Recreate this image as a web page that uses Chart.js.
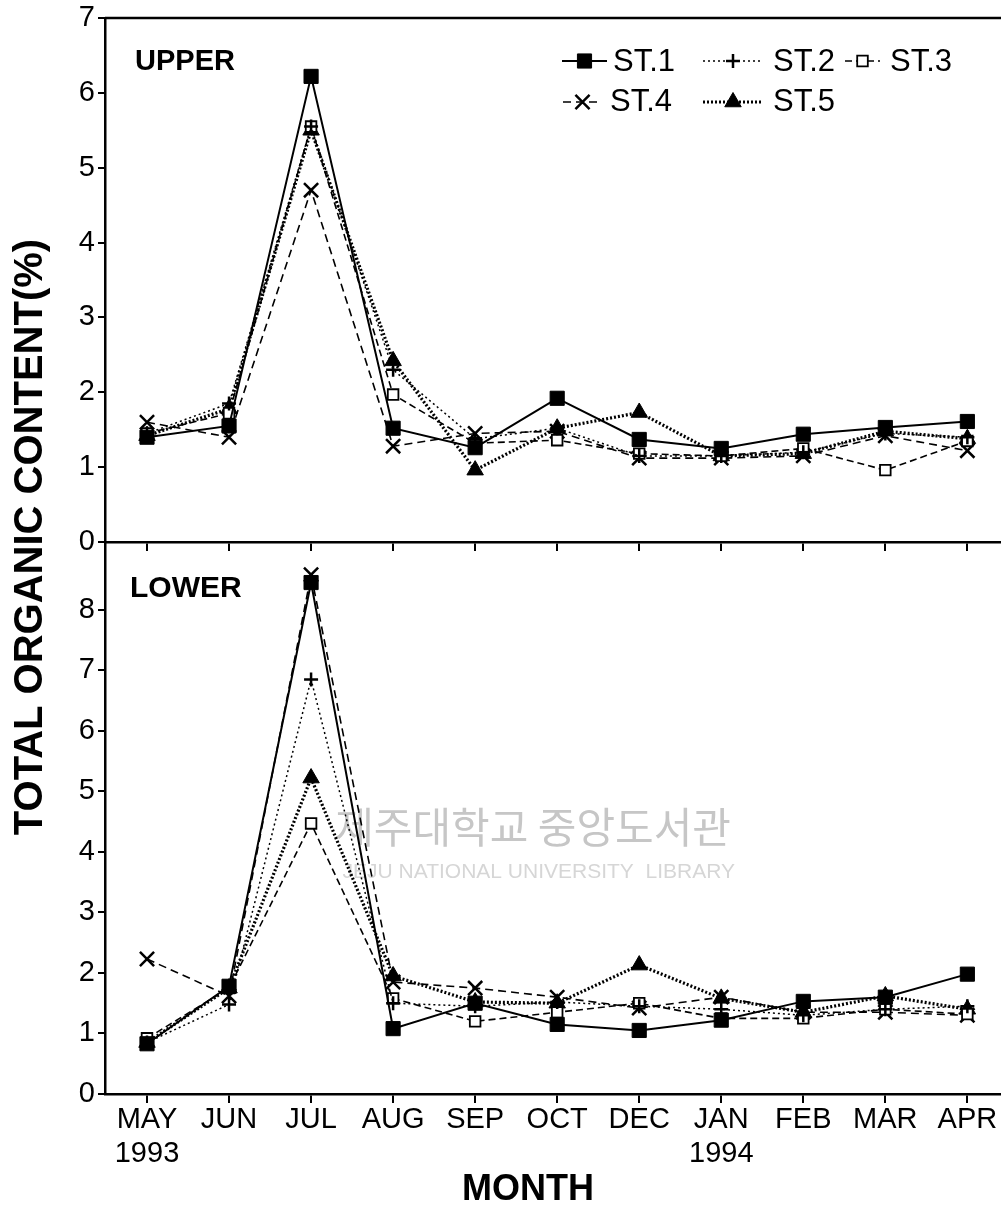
<!DOCTYPE html>
<html><head><meta charset="utf-8">
<script src="https://cdn.jsdelivr.net/npm/chart.js@4.4.0/dist/chart.umd.min.js"></script>
<style>
html,body{margin:0;padding:0;background:#fff;}
#wrap{position:relative;width:1001px;height:1207px;overflow:hidden;background:#fff;}
canvas{position:absolute;left:0;top:0;}
</style></head><body>
<div id="wrap"><canvas id="up" width="1001" height="1207"></canvas><canvas id="low" width="1001" height="1207"></canvas></div>
<script>
// ---- data ----
const months = ['MAY','JUN','JUL','AUG','SEP','OCT','DEC','JAN','FEB','MAR','APR'];
const years  = ['1993','','','','','','','1994','','',''];
const stations = ['ST.1','ST.2','ST.3','ST.4','ST.5'];
const yTicksUpper = [0,1,2,3,4,5,6,7];
const yTicksLower = [0,1,2,3,4,5,6,7,8];

const upperST1 = [1.40, 1.55, 6.22, 1.52, 1.26, 1.92, 1.37, 1.25, 1.44, 1.53, 1.61];
const upperST2 = [1.45, 1.85, 5.55, 2.30, 1.38, 1.52, 1.15, 1.15, 1.20, 1.45, 1.40];
const upperST3 = [1.45, 1.72, 5.55, 1.97, 1.32, 1.36, 1.18, 1.15, 1.25, 0.96, 1.35];
const upperST4 = [1.60, 1.40, 4.70, 1.28, 1.45, 1.48, 1.12, 1.12, 1.15, 1.42, 1.22];
const upperST5 = [1.42, 1.78, 5.50, 2.42, 0.96, 1.52, 1.73, 1.15, 1.18, 1.48, 1.38];

const lowerST1 = [0.83, 1.78, 8.45, 1.08, 1.50, 1.15, 1.05, 1.22, 1.53, 1.60, 1.98];
const lowerST2 = [0.85, 1.48, 6.85, 1.50, 1.45, 1.52, 1.45, 1.40, 1.30, 1.40, 1.45];
const lowerST3 = [0.92, 1.75, 4.47, 1.58, 1.20, 1.35, 1.50, 1.25, 1.25, 1.40, 1.32];
const lowerST4 = [2.23, 1.62, 8.58, 1.85, 1.75, 1.60, 1.42, 1.60, 1.35, 1.35, 1.30];
const lowerST5 = [0.85, 1.75, 5.22, 1.95, 1.52, 1.50, 2.13, 1.58, 1.35, 1.62, 1.40];

// ---- styles ----
const FONT = '"Liberation Sans", Arial, Helvetica, sans-serif';
const styles = [
  {borderWidth:2,   dash:[],    pointStyle:'rect',     radius:10,  bg:'#000', pbw:1},
  {borderWidth:1.5, dash:[2,3], pointStyle:'cross',    radius:7,   bg:'#000', pbw:2.5},
  {borderWidth:1.6, dash:[7,4], pointStyle:'rect',     radius:7.5, bg:'#fff', pbw:1.8},
  {borderWidth:1.6, dash:[8,5], pointStyle:'crossRot', radius:10,  bg:'#000', pbw:2.5},
  {borderWidth:3.2, dash:[2,2], pointStyle:'triangle', radius:9.5, bg:'#000', pbw:1}
];

function makeDatasets(series){
  return series.map((vals, k) => {
    const s = styles[k];
    return {
      label: stations[k],
      data: vals.map((v, i) => ({x: i, y: v})),
      borderColor:'#000', borderWidth:s.borderWidth, borderDash:s.dash,
      pointStyle:s.pointStyle, pointRadius:s.radius, pointHoverRadius:s.radius,
      pointBackgroundColor:s.bg, pointBorderColor:'#000', pointBorderWidth:s.pbw,
      fill:false, tension:0, showLine:true
    };
  });
}

function xScale(showLabels){
  return {
    type:'linear', min:-0.512, max:10.41,
    afterBuildTicks: s => { s.ticks = months.map((_, i) => ({value:i})); },
    afterFit: s => { s.height = showLabels ? 113 : 20; s.paddingLeft = 0; s.paddingRight = 0; s.paddingTop = 0; s.paddingBottom = 0; },
    ticks:{ autoSkip:false, maxRotation:0, minRotation:0, padding:0, color:'#000',
      font:{family:FONT, size:29, lineHeight:1.17},
      callback: v => showLabels ? (years[v] ? [months[v], years[v]] : months[v]) : '' },
    grid:{ display:true, drawOnChartArea:false, drawTicks:true, tickLength:9, color:'#000', lineWidth:2 },
    border:{ display:true, color:'#000', width:2.5 }
  };
}
function yScale(max, tickVals){
  return {
    type:'linear', min:0, max:max,
    afterBuildTicks: s => { s.ticks = tickVals.map(v => ({value:v})); },
    afterFit: s => { s.width = 105; s.paddingTop = 0; s.paddingBottom = 0; s.paddingLeft = 0; s.paddingRight = 0; },
    ticks:{ padding:3, color:'#000', font:{family:FONT, size:29} },
    grid:{ display:true, drawOnChartArea:false, drawTicks:true, tickLength:7, color:'#000', lineWidth:2 },
    border:{ display:true, color:'#000', width:2.5 }
  };
}

function drawMarker(ctx, st, x, y){
  ctx.save();
  ctx.setLineDash([]);
  ctx.fillStyle = st.bg; ctx.strokeStyle = '#000'; ctx.lineWidth = st.pbw;
  Chart.helpers.drawPoint(ctx, {pointStyle:st.pointStyle, radius:st.radius, rotation:0, borderWidth:st.pbw}, x, y);
  ctx.restore();
}

const legendItems = [
  {k:0, x1:562, x2:607, tx:613, y:61, ty:71},
  {k:1, x1:703, x2:763, tx:773, y:61, ty:71},
  {k:2, x1:845, x2:880, tx:890, y:61, ty:71},
  {k:3, x1:563, x2:602, tx:610, y:102, ty:111},
  {k:4, x1:703, x2:763, tx:773, y:102, ty:111}
];

const upperDecor = {
  id:'upperDecor',
  afterDraw(chart){
    const ctx = chart.ctx, a = chart.chartArea;
    ctx.save();
    ctx.strokeStyle = '#000'; ctx.lineWidth = 2.5;
    ctx.beginPath(); ctx.moveTo(a.left, a.top); ctx.lineTo(a.right, a.top); ctx.stroke();
    ctx.fillStyle = '#000'; ctx.font = 'bold 29px ' + FONT; ctx.textBaseline = 'alphabetic'; ctx.textAlign = 'left';
    ctx.fillText('UPPER', 135, 70);
    legendItems.forEach(it => {
      const st = styles[it.k];
      ctx.save();
      ctx.strokeStyle = '#000'; ctx.lineWidth = st.borderWidth; ctx.setLineDash(st.dash);
      ctx.beginPath(); ctx.moveTo(it.x1, it.y); ctx.lineTo(it.x2, it.y); ctx.stroke();
      ctx.restore();
      drawMarker(ctx, st, (it.x1 + it.x2) / 2, it.y);
      ctx.fillStyle = '#000'; ctx.font = '31px ' + FONT; ctx.textAlign = 'left'; ctx.textBaseline = 'alphabetic';
      ctx.fillText(stations[it.k], it.tx, it.ty);
    });
    ctx.restore();
  }
};

const lowerDecor = {
  id:'lowerDecor',
  beforeDatasetsDraw(chart){
    const ctx = chart.ctx;
    ctx.save();
    ctx.textBaseline = 'alphabetic'; ctx.textAlign = 'right';
    ctx.fillStyle = '#c6c6c6';
    ctx.font = '42px "Noto Sans CJK KR", sans-serif';
    ctx.fillText('제주대학교 중앙도서관', 731, 843);
    ctx.fillStyle = '#d6d6d6';
    ctx.font = '21px ' + FONT;
    ctx.fillText('JEJU NATIONAL UNIVERSITY  LIBRARY', 735, 878);
    ctx.restore();
  },
  afterDraw(chart){
    const ctx = chart.ctx;
    ctx.save();
    ctx.fillStyle = '#000'; ctx.textBaseline = 'alphabetic';
    ctx.font = 'bold 30px ' + FONT; ctx.textAlign = 'left';
    ctx.fillText('LOWER', 130, 597);
    ctx.font = 'bold 36px ' + FONT; ctx.textAlign = 'center';
    ctx.fillText('MONTH', 528, 1200);
    ctx.save();
    ctx.translate(42, 537); ctx.rotate(-Math.PI / 2);
    ctx.font = 'bold 40px ' + FONT; ctx.textAlign = 'center';
    ctx.fillText('TOTAL ORGANIC CONTENT(%)', 0, 0);
    ctx.restore();
    ctx.restore();
  }
};

const common = {
  responsive:false, animation:false, devicePixelRatio:1, events:[],
  plugins:{ legend:{display:false}, tooltip:{enabled:false} }
};

new Chart(document.getElementById('up'), {
  type:'line',
  data:{ datasets: makeDatasets([upperST1, upperST2, upperST3, upperST4, upperST5]) },
  options: Object.assign({}, common, {
    layout:{ autoPadding:false, padding:{ top:18, left:0, right:0, bottom:1207 - 542 - 20 } },
    scales:{ x: xScale(false), y: yScale(7, yTicksUpper) }
  }),
  plugins:[upperDecor]
});

new Chart(document.getElementById('low'), {
  type:'line',
  data:{ datasets: makeDatasets([lowerST1, lowerST2, lowerST3, lowerST4, lowerST5]) },
  options: Object.assign({}, common, {
    layout:{ autoPadding:false, padding:{ top:542, left:0, right:0, bottom:0 } },
    scales:{ x: xScale(true), y: yScale(9.12, yTicksLower) }
  }),
  plugins:[lowerDecor]
});
</script>
</body></html>
